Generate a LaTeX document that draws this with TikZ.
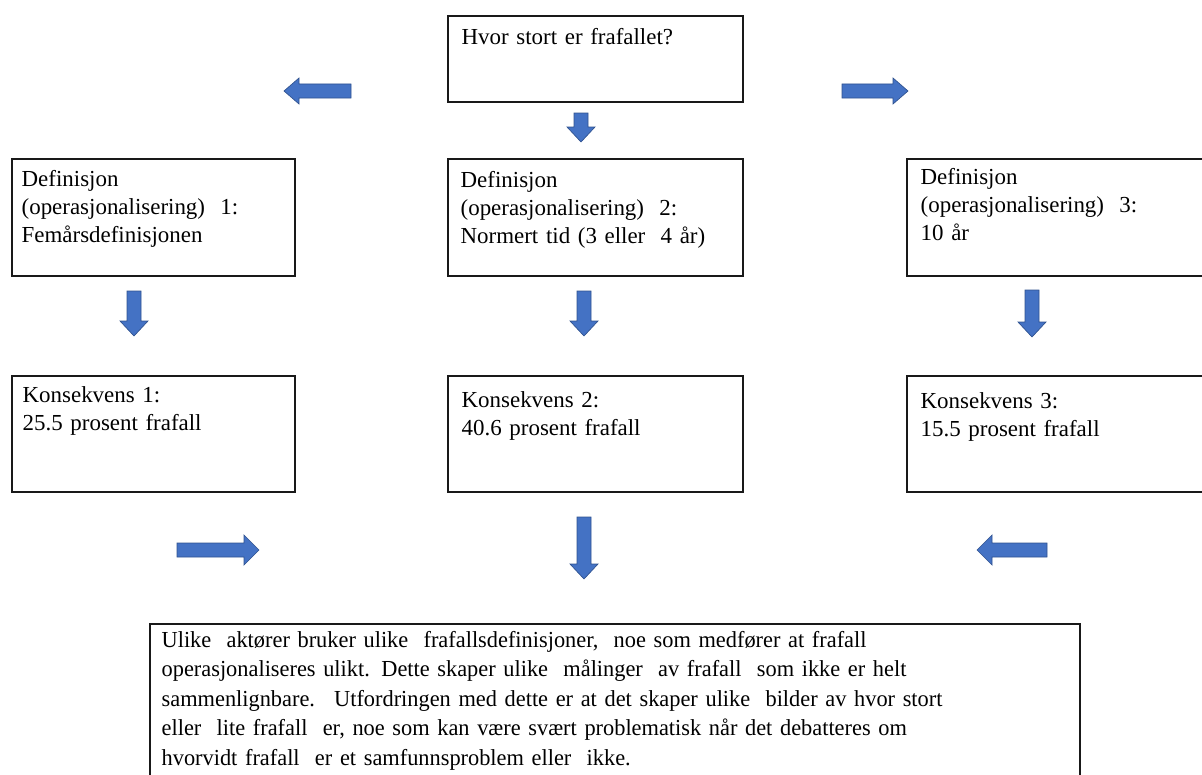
\documentclass[tikz,border=0pt]{standalone}
\usepackage{fontspec}
\setmainfont[WordSpace=0.8]{Liberation Serif}
\newfontfamily\narrowserif[FakeStretch=0.975,WordSpace=0.75]{Liberation Serif}
\usetikzlibrary{fit}
\definecolor{arrowblue}{HTML}{4472C4}
\definecolor{arrowedge}{HTML}{2F528F}

\begin{document}
\begin{tikzpicture}[
x=0.75pt,y=-0.75pt,
box/.style={
	draw=black!90,
	line width=0.9pt,
	inner sep=0pt
},
boxtext/.style={
	inner sep=0pt,
	anchor=base west,
	text width=25cm,
	align=left,
	font=\fontsize{17.2}{21}\selectfont
},
blockarrow/.style={
	fill=arrowblue,
	draw=arrowedge,
	line width=0.5pt
}
]
\useasboundingbox (0,0) rectangle (1202,774);

\foreach \n/\xa/\ya/\xb/\yb in {q/448/16/743/102,def1/12/159/295/276,def2/448/159/743/276,def3/907/159/1212/276,kons1/12/376/295/492,kons2/448/376/743/492,kons3/907/376/1212/492,konkl/150/624/1080/790}
\node[box,fit={(\xa,\ya) (\xb,\yb)}] (\n) {};

\node[boxtext] (qt) at ([shift={(14,29)}]q.north west) {Hvor stort er frafallet?};
\node[boxtext] (def1t) at ([shift={(10,28)}]def1.north west) {Definisjon\\(operasjonalisering)~ 1:\\Femårsdefinisjonen};
\node[boxtext] (def2t) at ([shift={(13,29)}]def2.north west) {Definisjon\\(operasjonalisering)~ 2:\\Normert tid (3 eller~ 4 år)};
\node[boxtext] (def3t) at ([shift={(14,26)}]def3.north west) {Definisjon\\(operasjonalisering)~ 3:\\10 år};
\node[boxtext] (kons1t) at ([shift={(11,27)}]kons1.north west) {Konsekvens 1:\\25.5 prosent frafall};
\node[boxtext] (kons2t) at ([shift={(14,32)}]kons2.north west) {Konsekvens 2:\\40.6 prosent frafall};
\node[boxtext] (kons3t) at ([shift={(14,33)}]kons3.north west) {Konsekvens 3:\\15.5 prosent frafall};
\node[boxtext,font=\narrowserif\fontsize{17.2}{22.1}\selectfont] (konklt) at ([shift={(12,24)}]konkl.north west)
{Ulike~ aktører bruker ulike~ frafallsdefinisjoner,~ noe som medfører at frafall\\
operasjonaliseres ulikt. Dette skaper ulike~ målinger~ av frafall~ som ikke er helt\\
sammenlignbare.~ Utfordringen med dette er at det skaper ulike~ bilder av hvor stort\\
eller~ lite frafall~ er, noe som kan være svært problematisk når det debatteres om\\
hvorvidt frafall~ er et samfunnsproblem eller~ ikke.};

% block arrows: tail x / tail y / angle / length / half head width
\foreach \x/\y/\a/\l/\h in {351/91/180/67/13,842/91/0/66/13,581/113/-90/29/14,134/291/-90/45/14,584/291/-90/45/14,1032/290/-90/47/14,177/550/0/82/15,584/517/-90/62/14,1047/550/180/70/15}
{
\begin{scope}[shift={(\x,\y)},rotate=\a]
\draw[blockarrow] (0,-7) -- (\l-15,-7) -- (\l-15,-\h) -- (\l,0) -- (\l-15,\h) -- (\l-15,7) -- (0,7) -- cycle;
\end{scope}
}

\end{tikzpicture}
\end{document}
